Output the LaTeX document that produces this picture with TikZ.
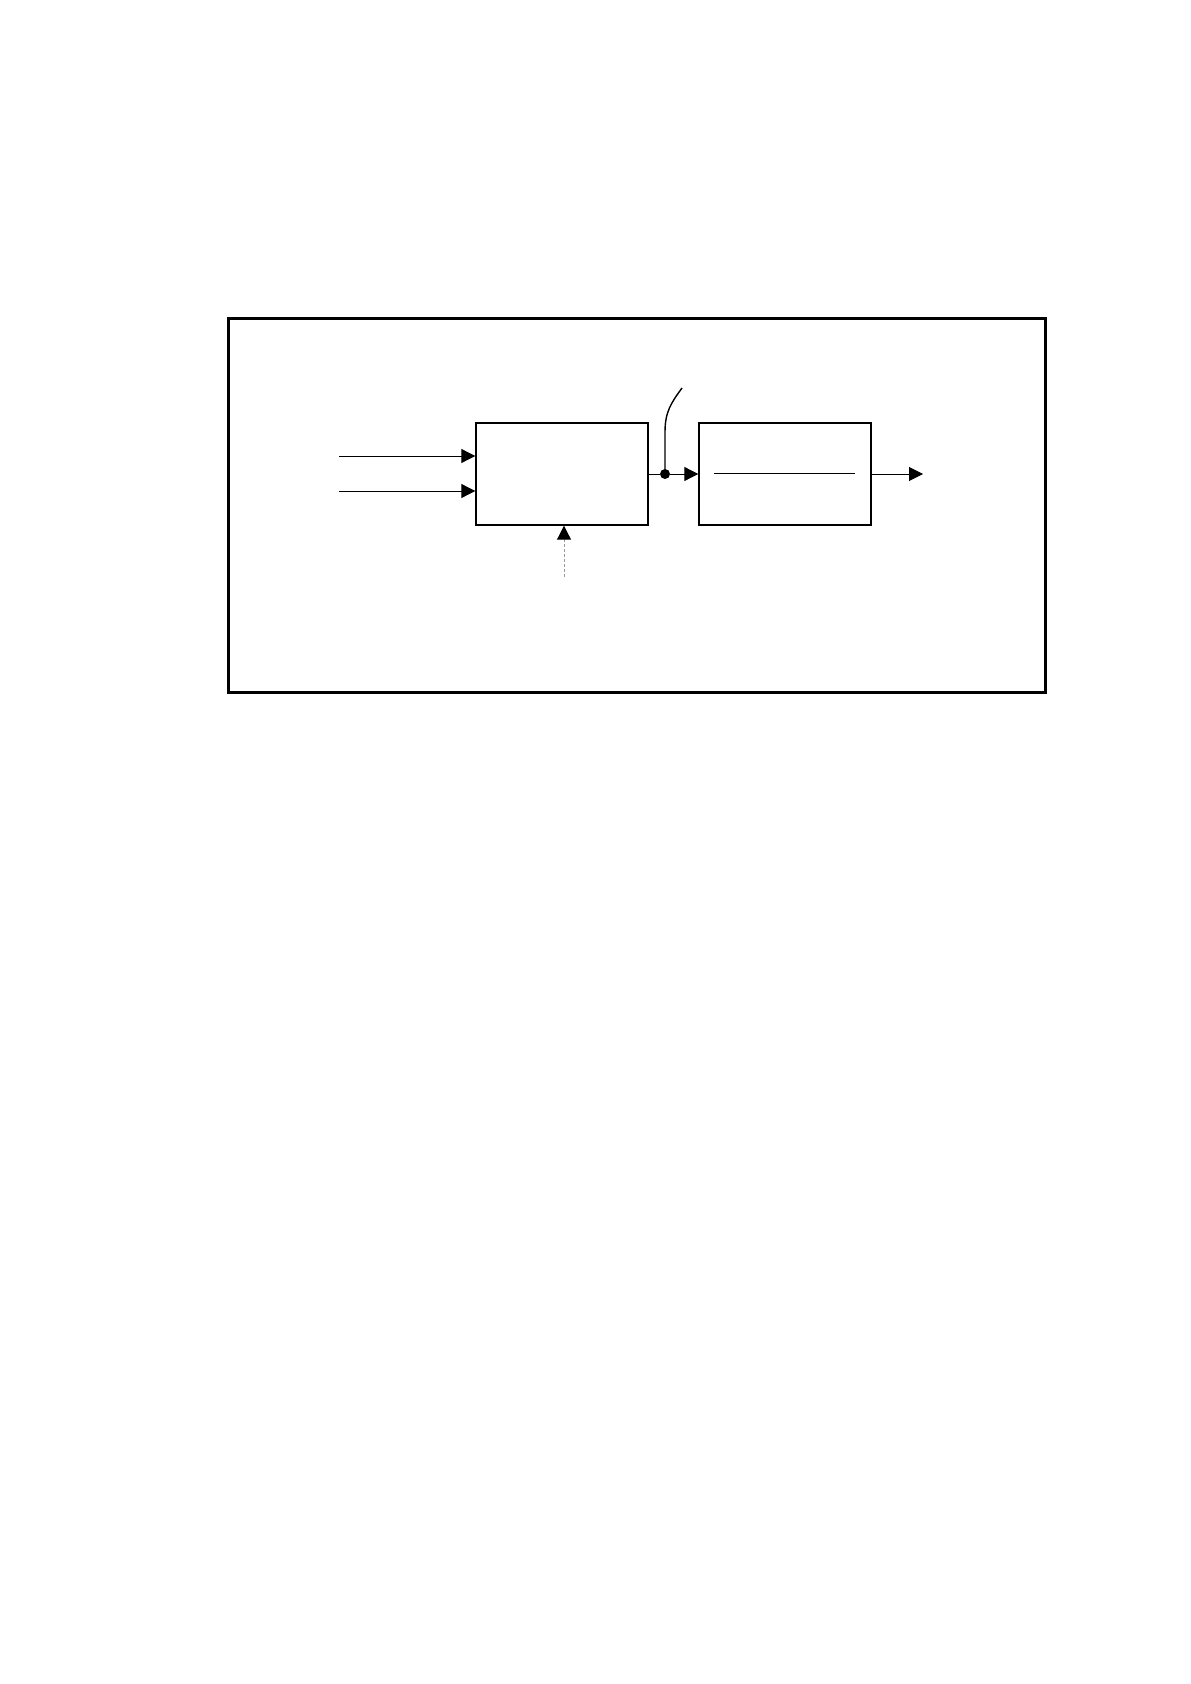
\documentclass[tikz,border=0pt]{standalone}
\usetikzlibrary{arrows.meta}

\tikzset{
	blockbox/.style={draw, line width=0.7pt, minimum width=86pt, minimum height=51pt, inner sep=0pt},
	flow/.style={line width=0.5pt, -{Triangle[length=7pt,width=7pt,color=black]}},
	ctrlflow/.style={flow, draw=black!40, dash pattern=on 1.5pt off 1pt},
}

\begin{document}
\begin{tikzpicture}[x=0.5pt, y=-0.5pt]
	\useasboundingbox (0,0) rectangle (1190,1684);
	
	\draw [line width=1.5pt] (228,319) rectangle (1045,692); %
	
	\node [blockbox] (proc) at (562,474) {};
	\node [blockbox] (filt) at (785,474) {};
	\draw [line width=0.5pt] ([xshift=8pt,yshift=0.5pt]filt.west) -- ([xshift=-8.5pt,yshift=0.5pt]filt.east);
	
	\foreach \n/\y in {inA/456, inB/491}
	{
		\coordinate (\n) at (339,\y);
		\draw [flow] (\n) -- (\n -| proc.west);
	}
	
	\coordinate (ctrl) at (564,577);
	\draw [ctrlflow] (ctrl) -- (ctrl |- proc.south);
	
	\node [circle, fill, inner sep=0pt, minimum size=5pt] (tap) at (665,474) {};
	\coordinate (probe) at (682,388);
	\draw [line width=0.5pt] (proc.east |- tap) -- (tap);
	\draw [flow] (tap) -- (filt.west |- tap);
	\draw [line width=0.7pt] (tap.center) -- (665,432) .. controls (665,412) and (671,403) .. (probe);
	
	\coordinate (out) at (923,474);
	\draw [flow] (filt.east |- out) -- (out);
	
\end{tikzpicture}
\end{document}
